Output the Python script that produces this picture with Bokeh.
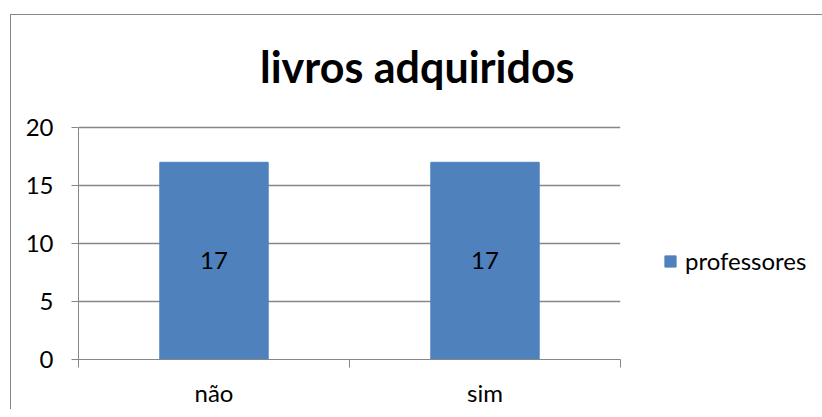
from bokeh.plotting import figure
from bokeh.models import (Range1d, FixedTicker, Legend, LegendItem, ColumnDataSource, LabelSet, Label)
from bokeh.core.properties import value
from bokeh.embed import file_html
from bokeh.resources import INLINE

categories = ["não", "sim"]
professores = [17, 17]
y_ticks = [0, 5, 10, 15, 20]
series_name = "professores"
chart_title = "livros adquiridos"

FONT = "Lato"
GRAY = "#868686"
BAR = "#4F81BD"

Y_MAX = 20
AXIS_H = 232        # pixel height of the 0..20 value axis
FRAME_H = 344       # frame extends up to hold the title
y_end = Y_MAX * FRAME_H / AXIS_H

xs = [i + 0.5 for i in range(len(categories))]
src = ColumnDataSource(dict(x=xs, top=professores, mid=[v / 2 for v in professores],
                            lab=[str(v) for v in professores]))

p = figure(frame_width=542, frame_height=FRAME_H, output_backend="svg", toolbar_location=None,
           x_range=Range1d(0, len(categories)), y_range=Range1d(0, y_end),
           min_border_left=67, min_border_right=200, min_border_top=0, min_border_bottom=50,
           margin=(14, 0, 0, 10),
           styles={"border-left": f"1px solid {GRAY}", "border-top": f"1px solid {GRAY}"})

p.outline_line_color = None
p.background_fill_color = "white"
p.border_fill_color = "white"
p.title.visible = False

r = p.vbar(x="x", top="top", width=0.4, source=src, fill_color=BAR, line_color=BAR)

p.add_layout(LabelSet(x="x", y="mid", text="lab", source=src, text_align="center",
                      text_baseline="middle", text_font=value(FONT), text_font_size=value("24px"),
                      text_color="black"))

# chart title, placed above the value axis
p.add_layout(Label(x=1.25, y=25.3, text=chart_title, text_align="center",
                   text_baseline="alphabetic", text_font=FONT, text_font_style="bold",
                   text_font_size="43px", text_color="black"))

# y axis
p.yaxis.ticker = FixedTicker(ticks=y_ticks)
p.yaxis.bounds = (0, Y_MAX)
p.yaxis.axis_line_color = GRAY
p.yaxis.major_tick_line_color = GRAY
p.yaxis.major_tick_out = 7
p.yaxis.major_tick_in = 0
p.yaxis.minor_tick_line_color = None
p.yaxis.major_label_standoff = 18
p.yaxis.major_label_text_font = FONT
p.yaxis.major_label_text_font_size = "24px"
p.yaxis.major_label_text_color = "black"

# x axis
p.xaxis.ticker = FixedTicker(ticks=xs, minor_ticks=list(range(len(categories) + 1)))
p.xaxis.major_label_overrides = {x: c for x, c in zip(xs, categories)}
p.xaxis.axis_line_color = GRAY
p.xaxis.major_tick_line_color = None
p.xaxis.minor_tick_line_color = GRAY
p.xaxis.minor_tick_out = 8
p.xaxis.minor_tick_in = 0
p.xaxis.major_label_standoff = 10
p.xaxis.major_label_text_font = FONT
p.xaxis.major_label_text_font_size = "24px"
p.xaxis.major_label_text_color = "black"

p.xgrid.grid_line_color = None
p.ygrid.grid_line_color = GRAY
p.ygrid.grid_line_width = 1.5

legend = Legend(items=[LegendItem(label=series_name, renderers=[r])],
                location=(43, 84), border_line_color=None, background_fill_alpha=0,
                padding=0, margin=0, glyph_width=14, glyph_height=14, label_standoff=8,
                label_text_font=FONT, label_text_font_size="24px", label_text_color="black")
p.add_layout(legend, "right")

open("out.html", "w").write(file_html(p, INLINE))
